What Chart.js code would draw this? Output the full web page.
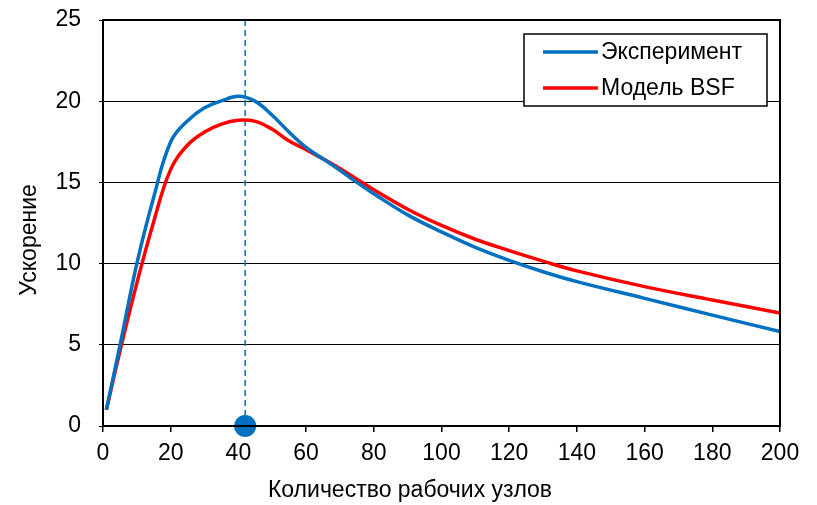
<!DOCTYPE html>
<html>
<head>
<meta charset="utf-8">
<script src="https://cdn.jsdelivr.net/npm/chart.js@4"></script>
<style>
  html, body { margin: 0; padding: 0; background: #fff; }
  #wrap { width: 817px; height: 505px; }
</style>
</head>
<body>
<div id="wrap"><canvas id="myChart" width="817" height="505"></canvas></div>
<script>
// количество узлов
const nodes = [1, 5, 10, 15, 20, 25, 30, 35, 40, 45, 50, 55, 60, 65, 70, 75, 80, 90, 100, 110, 120, 130, 140, 160, 180, 200];
// ускорение: эксперимент
const experiment = [1, 4.95, 10.0, 14.1, 17.5, 18.8, 19.6, 20.02, 20.3, 19.99, 19.13, 18.09, 17.15, 16.45, 15.75, 15.0, 14.3, 13.0, 11.95, 11.0, 10.2, 9.5, 8.89, 7.86, 6.83, 5.81];
// ускорение: модель BSF
const model = [1, 4.6, 8.8, 12.6, 15.8, 17.3, 18.1, 18.59, 18.82, 18.76, 18.27, 17.55, 17.02, 16.45, 15.85, 15.2, 14.55, 13.35, 12.35, 11.5, 10.8, 10.15, 9.55, 8.58, 7.76, 6.96];
// точка максимума
const peakX = 42;
const xTicks = [0, 20, 40, 60, 80, 100, 120, 140, 160, 180, 200];
const yTicks = [0, 5, 10, 15, 20, 25];

const FONT = 'Liberation Sans, Arial, sans-serif';
const BLUE = '#0070C0';
const RED = '#FF0000';

const toPoints = (xs, ys) => xs.map((x, i) => ({ x: x, y: ys[i] }));

// рамка области графика, легенда и подписи осей
const framePlugin = {
  id: 'frame',
  afterDatasetsDraw(chart) {
    const ctx = chart.ctx;
    const a = chart.chartArea;
    ctx.save();
    ctx.strokeStyle = '#000';
    ctx.lineWidth = 2;
    ctx.strokeRect(a.left, a.top, a.right - a.left, a.bottom - a.top);

    // легенда
    const bx = 524, by = 34, bw = 243, bh = 72;
    ctx.fillStyle = '#fff';
    ctx.fillRect(bx, by, bw, bh);
    ctx.lineWidth = 1.5;
    ctx.strokeRect(bx, by, bw, bh);
    const items = chart.data.datasets.filter(d => d.inLegend);
    ctx.font = '23px ' + FONT;
    ctx.textBaseline = 'middle';
    items.forEach((d, i) => {
      const y = by + 18 + i * 36;
      ctx.strokeStyle = d.borderColor;
      ctx.lineWidth = 3.5;
      ctx.beginPath();
      ctx.moveTo(543, y);
      ctx.lineTo(598, y);
      ctx.stroke();
      ctx.fillStyle = '#000';
      ctx.fillText(d.label, 601, y + 1);
    });

    ctx.fillStyle = '#000';
    ctx.textAlign = 'center';
    ctx.fillText('Количество рабочих узлов', 410, 491);
    ctx.translate(30, 240);
    ctx.rotate(-Math.PI / 2);
    ctx.fillText('Ускорение', 0, 0);
    ctx.restore();
  }
};

const ctx = document.getElementById('myChart').getContext('2d');
const myChart = new Chart(ctx, {
  type: 'scatter',
  data: {
    datasets: [
      {
        label: 'Эксперимент',
        inLegend: true,
        data: toPoints(nodes, experiment),
        showLine: true,
        borderColor: BLUE,
        borderWidth: 3.5,
        pointRadius: 0,
        tension: 0.4,
      },
      {
        label: 'Модель BSF',
        inLegend: true,
        data: toPoints(nodes, model),
        showLine: true,
        borderColor: RED,
        borderWidth: 3.5,
        pointRadius: 0,
        tension: 0.4,
      },
      {
        label: 'max',
        data: [{ x: peakX, y: 0 }, { x: peakX, y: 25 }],
        showLine: true,
        borderColor: BLUE,
        borderWidth: 1.5,
        borderDash: [6, 4],
        pointRadius: [11, 0],
        pointBackgroundColor: BLUE,
        pointBorderWidth: 0,
        clip: false,
      },
    ],
  },
  options: {
    responsive: false,
    animation: false,
    layout: { padding: { top: 20, right: 37, left: 0, bottom: 0 } },
    plugins: {
      legend: { display: false },
      tooltip: { enabled: false },
    },
    scales: {
      x: {
        type: 'linear',
        min: 0,
        max: 200,
        afterBuildTicks: s => { s.ticks = xTicks.map(v => ({ value: v })); },
        afterFit: s => { s.height = 79; s.paddingLeft = 0; s.paddingRight = 0; },
        ticks: { color: '#000', font: { family: FONT, size: 23 }, padding: 8 },
        grid: { drawOnChartArea: false, color: '#000', tickLength: 6, lineWidth: 1.5 },
        border: { display: true, color: '#000', width: 2 },
      },
      y: {
        min: 0,
        max: 25,
        afterBuildTicks: s => { s.ticks = yTicks.map(v => ({ value: v })); },
        afterFit: s => { s.width = 103; s.paddingTop = 0; s.paddingBottom = 0; },
        ticks: { color: '#000', font: { family: FONT, size: 23 }, padding: 18 },
        grid: { color: '#000', lineWidth: 1, tickLength: 4 },
        border: { display: true, color: '#000', width: 2 },
      },
    },
  },
  plugins: [framePlugin],
});
</script>
</body>
</html>
